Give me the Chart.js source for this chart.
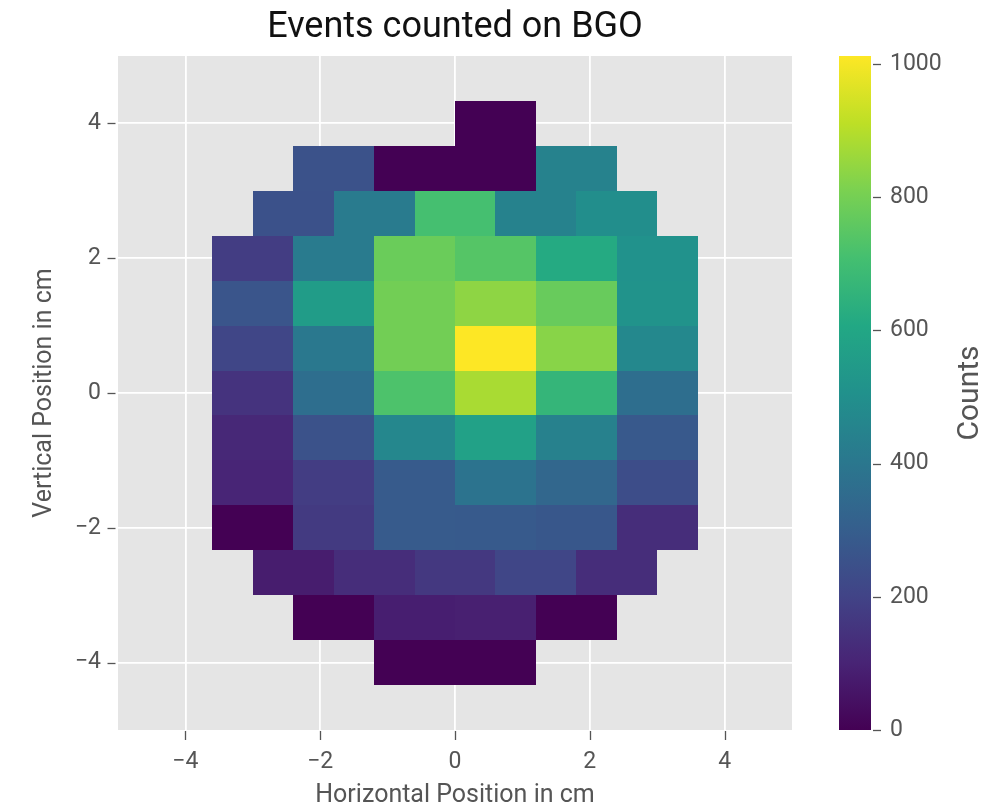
<!DOCTYPE html>
<html>
<head>
<meta charset="utf-8">
<title>Events counted on BGO</title>
<script src="https://cdn.jsdelivr.net/npm/chart.js@4.4.1/dist/chart.umd.min.js"></script>
<style>
  html, body { margin: 0; padding: 0; background: #ffffff; }
  #wrap { width: 1007px; height: 808px; }
  canvas { display: block; }
</style>
</head>
<body>
<div id="wrap"><canvas id="bgo" width="1007" height="808"></canvas></div>
<script>
// ---- detector data -------------------------------------------------------
// One entry per crystal row, top to bottom: vertical centre of the row (cm),
// left edge of the row's first crystal (cm) and the counts in each crystal.
const rowY      = [4.0, 3.333, 2.667, 2.0, 1.333, 0.667, 0.0, -0.667, -1.333, -2.0, -2.667, -3.333, -4.0];
const rowStartX = [0.0, -2.4, -3.0, -3.6, -3.6, -3.6, -3.6, -3.6, -3.6, -3.6, -3.0, -2.4, -1.2];
const rowCounts = [
  [0],
  [253, 0, 0, 445],
  [250, 415, 710, 445, 495],
  [180, 415, 780, 740, 615, 510],
  [265, 555, 795, 840, 775, 515],
  [210, 405, 795, 1012, 830, 470],
  [150, 365, 725, 880, 665, 365],
  [115, 255, 465, 575, 440, 280],
  [105, 180, 290, 385, 335, 235],
  [0, 170, 290, 285, 275, 130],
  [80, 130, 165, 210, 130],
  [0, 85, 90, 0],
  [0, 0]
];

// axis ticks
const xTickValues  = [-4, -2, 0, 2, 4];
const xTickLabels  = ['\u22124', '\u22122', '0', '2', '4'];
const yTickValues  = [-4, -2, 0, 2, 4];
const yTickLabels  = ['\u22124', '\u22122', '0', '2', '4'];
const cbTickValues = [0, 200, 400, 600, 800, 1000];
const cbTickLabels = ['0', '200', '400', '600', '800', '1000'];

// ---- geometry and style ---------------------------------------------------
const CELL_W = 1.2;      // crystal width, cm
const CELL_H = 0.667;    // crystal height, cm
const GREY_TEXT = '#555555';
const PANEL_BG = '#e5e5e5';

// viridis colour map, 11 evenly spaced stops
const VIRIDIS = ['#440154', '#482475', '#414487', '#355f8d', '#2a788e', '#21918c',
                 '#22a884', '#44bf70', '#7ad151', '#bddf26', '#fde725'];
const VIRIDIS_RGB = VIRIDIS.map(h => [1, 3, 5].map(i => parseInt(h.slice(i, i + 2), 16)));

const allCounts = rowCounts.flat();
const vmin = 0;
const vmax = Math.max(...allCounts);

function viridis(v) {
  let t = (v - vmin) / (vmax - vmin);
  t = Math.min(1, Math.max(0, t));
  const s = t * (VIRIDIS_RGB.length - 1);
  const i = Math.min(Math.floor(s), VIRIDIS_RGB.length - 2);
  const f = s - i;
  const a = VIRIDIS_RGB[i], b = VIRIDIS_RGB[i + 1];
  const c = a.map((ai, k) => Math.round(ai + (b[k] - ai) * f));
  return `rgb(${c[0]},${c[1]},${c[2]})`;
}

// crystal centres built from the row tables
const cells = [];
rowCounts.forEach((counts, r) => {
  counts.forEach((v, i) => {
    cells.push({ x: rowStartX[r] + CELL_W * (i + 0.5), y: rowY[r], v: v });
  });
});

// ---- plugins ----------------------------------------------------------------
const panelBackground = {
  id: 'panelBackground',
  beforeDraw(chart) {
    const { ctx, chartArea: a } = chart;
    ctx.save();
    ctx.fillStyle = PANEL_BG;
    ctx.fillRect(a.left, a.top, a.right - a.left, a.bottom - a.top);
    ctx.restore();
  }
};

const crystalCells = {
  id: 'crystalCells',
  beforeDatasetsDraw(chart) {
    const { ctx, chartArea: a } = chart;
    const xs = chart.scales.x, ys = chart.scales.y;
    ctx.save();
    ctx.beginPath();
    ctx.rect(a.left, a.top, a.right - a.left, a.bottom - a.top);
    ctx.clip();
    chart.data.datasets[0].data.forEach(p => {
      const l = Math.round(xs.getPixelForValue(p.x - CELL_W / 2));
      const r = Math.round(xs.getPixelForValue(p.x + CELL_W / 2));
      const t = Math.round(ys.getPixelForValue(p.y + CELL_H / 2));
      const b = Math.round(ys.getPixelForValue(p.y - CELL_H / 2));
      ctx.fillStyle = viridis(p.v);
      ctx.fillRect(l, t, r - l, b - t);
    });
    ctx.restore();
  }
};

const colorBar = {
  id: 'colorBar',
  afterDraw(chart) {
    const { ctx } = chart;
    const cb = chart.scales.cb;
    const yTop = cb.getPixelForValue(vmax);
    const yBot = cb.getPixelForValue(vmin);
    const x0 = cb.left + 47, w = 32;
    const g = ctx.createLinearGradient(0, yBot, 0, yTop);
    VIRIDIS.forEach((c, i) => g.addColorStop(i / (VIRIDIS.length - 1), c));
    ctx.save();
    ctx.fillStyle = g;
    ctx.fillRect(x0, yTop, w, yBot - yTop);

    // tick marks to the right of the bar
    ctx.strokeStyle = GREY_TEXT;
    ctx.lineWidth = 1.3;
    cb.ticks.forEach(tk => {
      const y = Math.round(cb.getPixelForValue(tk.value)) + 0.5;
      ctx.beginPath();
      ctx.moveTo(x0 + w + 2, y);
      ctx.lineTo(x0 + w + 10, y);
      ctx.stroke();
    });

    // colour bar label, reading bottom to top
    ctx.translate(cb.left + 178, (yTop + yBot) / 2);
    ctx.rotate(-Math.PI / 2);
    ctx.fillStyle = GREY_TEXT;
    ctx.font = '30px Roboto';
    ctx.textAlign = 'center';
    ctx.textBaseline = 'middle';
    ctx.fillText('Counts', 0, 0);
    ctx.restore();
  }
};

const axisTickMarks = {
  id: 'axisTickMarks',
  afterDraw(chart) {
    const { ctx, chartArea: a } = chart;
    const xs = chart.scales.x, ys = chart.scales.y;
    ctx.save();
    ctx.strokeStyle = GREY_TEXT;
    ctx.lineWidth = 1.3;
    xs.ticks.forEach(tk => {
      const x = Math.round(xs.getPixelForValue(tk.value)) + 0.5;
      ctx.beginPath();
      ctx.moveTo(x, a.bottom + 1);
      ctx.lineTo(x, a.bottom + 10);
      ctx.stroke();
    });
    ys.ticks.forEach(tk => {
      const y = Math.round(ys.getPixelForValue(tk.value)) + 0.5;
      ctx.beginPath();
      ctx.moveTo(a.left - 2.5, y);
      ctx.lineTo(a.left - 10.5, y);
      ctx.stroke();
    });
    ctx.restore();
  }
};

// ---- chart ------------------------------------------------------------------
Chart.defaults.font.family = 'Roboto';

const tickFont = { size: 23 };
const axisTitleFont = { size: 25, lineHeight: 1 };

new Chart(document.getElementById('bgo'), {
  type: 'scatter',
  data: {
    datasets: [{
      label: 'Counts',
      data: cells,
      pointRadius: 0,
      pointHoverRadius: 0,
      xAxisID: 'x',
      yAxisID: 'y'
    }]
  },
  options: {
    responsive: false,
    animation: false,
    devicePixelRatio: 1,
    events: [],
    layout: { padding: 0 },
    plugins: {
      legend: { display: false },
      tooltip: { enabled: false },
      title: {
        display: true,
        text: 'Events counted on BGO',
        fullSize: false,
        color: '#111111',
        font: { size: 36, weight: 'normal' },
        padding: { top: 6.1, bottom: 6.7 }
      }
    },
    scales: {
      x: {
        type: 'linear',
        position: 'bottom',
        min: -5,
        max: 5,
        afterBuildTicks: s => { s.ticks = xTickValues.map(v => ({ value: v })); },
        afterFit: s => { s.height = 78; s.paddingLeft = 0; s.paddingRight = 0; },
        grid: { color: '#ffffff', lineWidth: 1.8, drawTicks: false },
        border: { display: false },
        ticks: {
          color: GREY_TEXT,
          font: tickFont,
          padding: 18,
          maxRotation: 0,
          callback: (v, i) => xTickLabels[i]
        },
        title: {
          display: true,
          text: 'Horizontal Position in cm',
          color: GREY_TEXT,
          font: axisTitleFont,
          padding: { top: 0, bottom: 0 }
        }
      },
      y: {
        type: 'linear',
        position: 'left',
        min: -5,
        max: 5,
        afterBuildTicks: s => { s.ticks = yTickValues.map(v => ({ value: v })); },
        afterFit: s => { s.width = 118; s.paddingTop = 0; s.paddingBottom = 0; },
        grid: { color: '#ffffff', lineWidth: 1.8, drawTicks: false },
        border: { display: false },
        ticks: {
          color: GREY_TEXT,
          font: tickFont,
          padding: 17,
          callback: (v, i) => yTickLabels[i]
        },
        title: {
          display: true,
          text: 'Vertical Position in cm',
          color: GREY_TEXT,
          font: axisTitleFont,
          padding: { top: 32, bottom: 0 }
        }
      },
      cb: {
        type: 'linear',
        position: 'right',
        min: vmin,
        max: vmax,
        afterBuildTicks: s => { s.ticks = cbTickValues.map(v => ({ value: v })); },
        afterFit: s => { s.width = 215; s.paddingTop = 0; s.paddingBottom = 0; },
        grid: { display: false, drawTicks: false },
        border: { display: false },
        ticks: {
          color: GREY_TEXT,
          font: tickFont,
          padding: 98,
          callback: (v, i) => cbTickLabels[i]
        }
      }
    }
  },
  plugins: [panelBackground, crystalCells, colorBar, axisTickMarks]
});
</script>
</body>
</html>
